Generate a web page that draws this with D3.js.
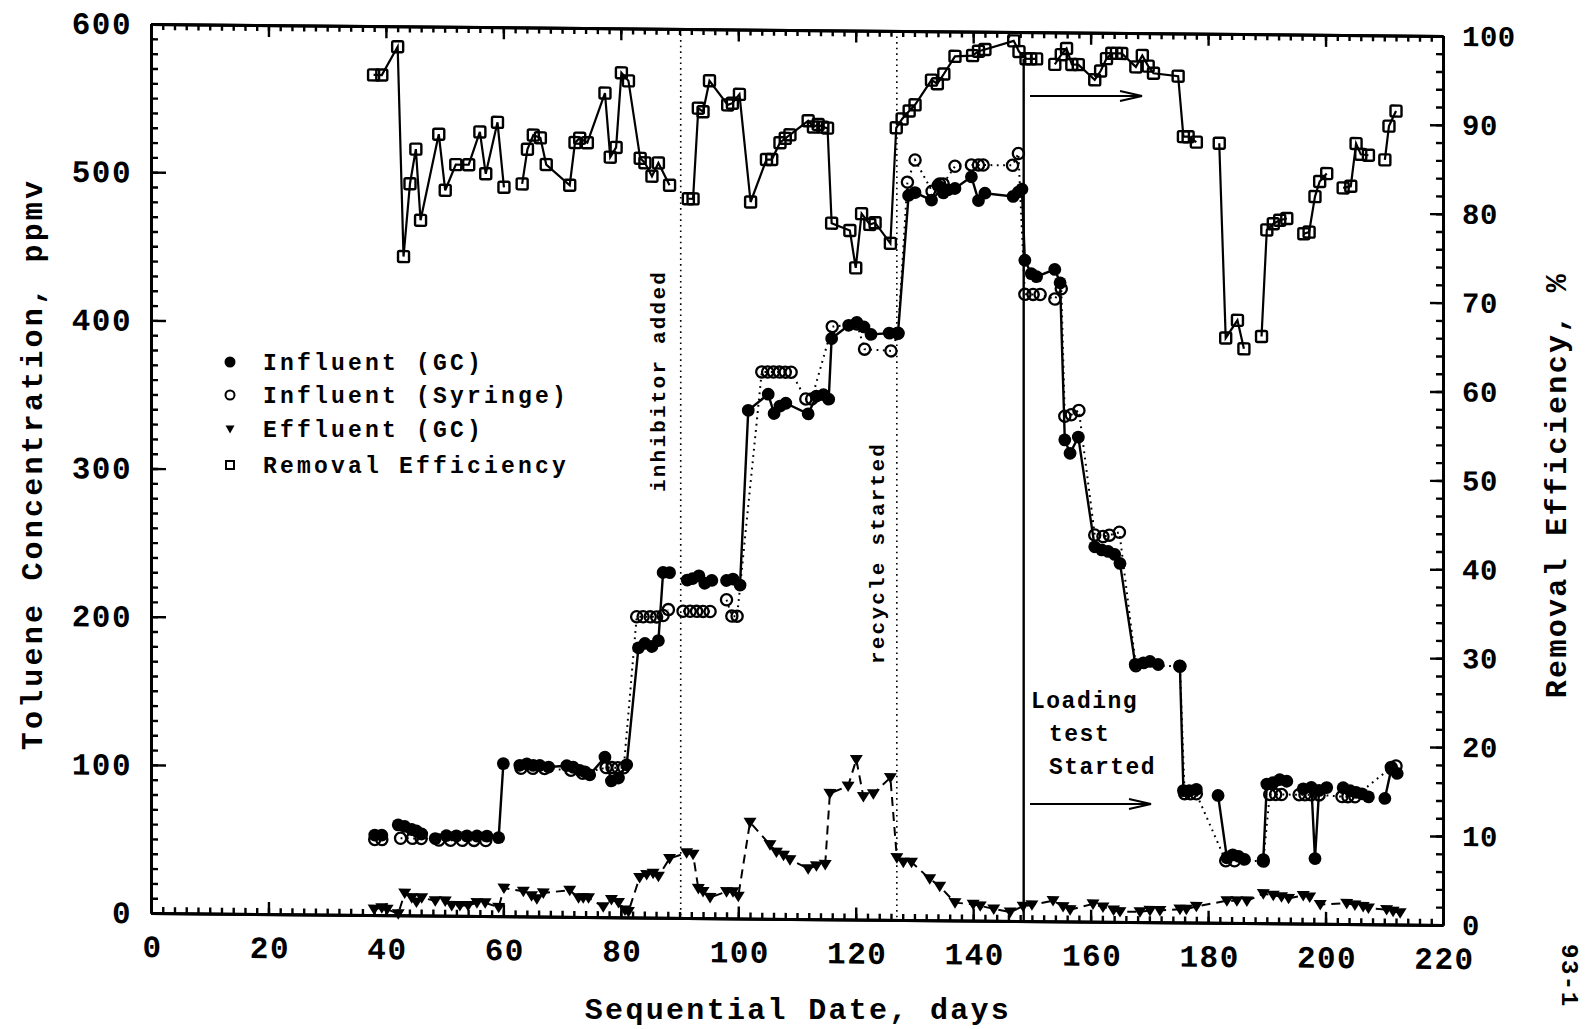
<!DOCTYPE html>
<html>
<head>
<meta charset="utf-8">
<script src="https://cdn.jsdelivr.net/npm/d3@7"></script>
<style>
  body { margin: 0; background: #fff; }
  svg { display: block; background: #fff; }
  text { font-family: "Liberation Mono", "Courier New", monospace; font-weight: bold; fill: #000; }
</style>
</head>
<body>
<div id="chart"></div>
<script>
//////////////////////////// data /////////////////////////////////////////

// removal efficiency, % (right axis)
const reDays = [37.9, 39.3, 42.0, 43.0, 44.1, 45.1, 45.9, 49.0, 50.1, 51.9, 54.1, 56.0, 57.0, 59.0, 60.1,
  63.2, 64.1, 65.1, 66.3, 67.3, 71.3, 72.2, 73.0, 74.3, 77.3, 78.2, 79.2, 80.1, 81.3, 83.3, 84.1, 85.3, 86.4, 88.3,
  91.5, 92.3, 93.2, 94.0, 95.1, 98.2, 99.0, 100.2, 102.1, 104.8, 105.7, 107.1, 108.0, 108.8, 111.9, 112.8, 113.6,
  114.4, 115.2, 115.9, 119.0, 120.0, 121.0, 122.4, 123.3, 125.9, 126.9, 127.9, 129.1, 130.1, 132.9, 133.9, 135.0,
  136.9, 139.9, 140.9, 142.0, 146.9, 147.8, 149.0, 149.8, 150.8,
  153.9, 155.0, 155.9, 156.8, 157.9, 160.7, 161.7, 162.7, 163.6, 164.4, 165.3, 167.7, 168.8, 169.8, 170.7, 174.9,
  175.8, 176.6, 178.0,
  181.9, 183.0, 185.0, 186.1,
  189.1, 190.0, 191.1, 192.2, 193.4,
  196.3, 197.2, 198.2, 199.0, 200.2,
  203.0, 204.3, 205.2, 206.0, 207.3,
  210.1, 210.8, 212.0];
const reVals = [94.5, 94.5, 97.7, 74.1, 82.3, 86.2, 78.2, 87.9, 81.6, 84.5, 84.5, 88.2, 83.5, 89.3, 82.0,
  82.4, 86.3, 87.9, 87.6, 84.6, 82.3, 87.1, 87.6, 87.1, 92.7, 85.5, 86.6, 95.0, 94.1, 85.4, 84.9, 83.4, 84.9, 82.4,
  80.9, 80.9, 91.1, 90.7, 94.2, 91.5, 91.7, 92.7, 80.6, 85.4, 85.4, 87.3, 87.8, 88.2, 89.8, 89.1, 89.4,
  89.1, 89.0, 78.3, 77.5, 73.3, 79.4, 78.2, 78.4, 76.1, 89.1, 90.1, 91.0, 91.7, 94.5, 94.1, 95.2,
  97.2, 97.3, 97.8, 98.0, 99.0, 97.8, 97.0, 97.0, 97.0,
  96.4, 97.5, 98.2, 96.4, 96.4, 94.7, 95.7, 97.1, 97.7, 97.7, 97.7, 96.2, 97.5, 96.3, 95.5, 95.2,
  88.4, 88.4, 87.8,
  87.7, 65.8, 67.8, 64.6,
  66.0, 78.0, 78.7, 79.1, 79.3,
  77.6, 77.8, 81.8, 83.5, 84.4,
  82.8, 83.0, 87.8, 86.6, 86.5,
  86.0, 89.8, 91.5];
const reBreaks = [63.2, 91.5, 153.9, 181.9, 189.1, 196.3, 203.0, 210.1];

// influent (GC), ppmv
const gcDays = [38.1, 39.3, 42.1, 43.2, 44.4, 45.2, 46.1, 48.4, 50.3, 52.0, 53.8, 55.5, 57.2, 59.2, 60.0,
  62.8, 64.0, 65.1, 66.2, 67.7, 70.8, 71.9, 73.0, 73.9, 74.7, 77.3, 78.4, 79.6, 81.0, 83.0, 84.1, 85.3, 86.4, 87.2, 88.3,
  91.3, 92.2, 93.3, 94.3, 95.5,
  98.0, 99.1, 100.3, 101.7, 105.1, 106.1, 107.1, 108.1, 111.9, 113.3, 114.5, 115.4, 115.9, 118.8, 120.2, 121.4,
  122.6, 125.7, 127.2, 129.0, 130.1, 132.9, 134.0, 134.9, 135.7, 136.9, 139.7, 140.9, 142.0, 146.8, 147.7, 148.3,
  148.8, 149.9, 150.8, 153.9, 154.8, 155.6, 156.5, 157.9, 160.7, 161.9, 163.0, 164.1, 165.0, 167.6, 169.0, 170.1, 171.5,
  175.2, 175.8, 176.8, 178.0,
  181.7, 183.2, 184.2, 185.2, 186.2,
  189.4, 190.0, 191.1, 192.2, 193.4,
  196.2, 197.6, 198.2, 198.9, 200.2,
  203.0, 204.2, 205.2, 206.2, 207.3,
  210.1, 211.2, 212.2];
const gcVals = [54, 54, 61, 60, 58, 57, 55, 52, 54, 54, 54, 54, 54, 53, 103,
  102, 103, 102, 102, 101, 102, 101, 99, 98, 96, 108, 92, 94, 103, 182, 185, 183, 187, 233, 233,
  228, 229, 231, 226, 228,
  228, 229, 225, 343, 354, 341, 346, 348, 341, 353, 354, 351, 392, 401, 403, 400,
  395, 396, 396, 489, 491, 486, 496, 491, 493, 494, 502, 486, 491, 489, 492, 494,
  446, 437, 435, 440, 431, 325, 316, 327, 253, 251, 250, 248, 242, 174, 175, 176, 174,
  173, 89, 89, 90,
  86, 44, 46, 45, 43,
  43, 94, 95, 97, 96,
  91, 92, 44, 90, 92,
  92, 90, 89, 88, 86,
  85, 105, 102];
const gcBreaks = [42.1, 48.4, 62.8, 91.3, 98.0, 175.2, 181.7, 189.4, 196.2, 203.0, 210.1];

// influent (syringe), ppmv
const synDays = [38.1, 39.3, 42.5, 44.5, 46.0, 49.0, 51.0, 53.0, 55.0, 57.0, 63.0, 65.0, 67.0, 71.5, 73.5,
  77.5, 78.5, 79.5, 80.5, 82.7, 83.8, 85.0, 86.1, 87.2, 88.1, 90.6, 91.8, 92.9, 94.0, 95.2, 98.0, 98.9, 99.8,
  104.0, 105.0, 106.0, 107.0, 108.0, 109.0, 111.5, 112.5, 116.0, 120.2, 121.5, 126.0, 127.2, 128.8, 130.1, 133.0,
  134.3, 134.9, 136.9, 139.7, 140.9, 141.7, 146.7, 147.7, 148.8, 150.2, 151.4, 153.9, 155.0, 155.6, 156.7, 158.0,
  160.7, 162.1, 163.2, 164.9, 167.7, 175.2, 176.0, 177.0, 178.0, 183.0, 184.5, 189.4, 190.5, 191.5, 192.5,
  195.5, 196.5, 197.5, 198.9, 202.8, 203.8, 205.0, 211.2, 212.0];
const synVals = [51, 51, 52, 52, 52, 51, 51, 51, 51, 51, 100, 100, 100, 99, 97,
  101, 101, 101, 101, 203, 203, 203, 203, 204, 208, 207, 207, 207, 207, 207, 215, 204, 204,
  369, 369, 369, 369, 369, 369, 351, 351, 400, 402, 385, 384, 396, 498, 513, 492,
  497, 497, 509, 510, 510, 510, 510, 518, 423, 423, 423, 420, 427, 341, 342, 345,
  261, 260, 261, 263, 173, 173, 87, 87, 87, 42, 42, 42, 87, 87, 87,
  87, 87, 87, 87, 86, 86, 86, 106, 107];
const synBreaks = [42.5, 63.0, 90.6, 98.0];

// effluent (GC), ppmv
const efDays = [38.0, 39.3, 40.2, 42.1, 43.2, 44.4, 45.2, 46.1, 48.4, 50.1, 51.2, 52.6, 54.0, 55.5, 56.9, 59.2, 60.1,
  63.4, 64.8, 65.7, 66.8, 71.3, 72.8, 73.6, 74.5, 77.0, 78.4, 79.6, 80.7, 81.3, 83.2, 84.4, 85.5, 86.4, 88.3,
  91.2, 92.3, 93.2, 94.0, 95.2, 98.0, 99.1, 100.0, 102.0, 105.4, 106.5, 107.7, 108.8, 111.9, 113.3, 114.8,
  115.6, 118.7, 120.1, 121.3, 123.0, 125.9, 127.0, 128.1, 129.5, 132.6, 134.3, 136.9, 140.0, 141.2, 143.5,
  146.3, 148.5, 150.0, 153.6, 155.3, 156.5, 160.4, 162.1, 163.9, 165.0, 168.4, 170.1, 171.8, 175.2, 176.3,
  178.0, 183.2, 184.9, 186.6, 189.4, 191.1, 192.5, 193.7, 196.2, 197.3, 199.1, 203.6, 205.0, 206.4, 207.3,
  210.4, 211.5, 212.7];
const efVals = [4, 5, 4, 1, 15, 12, 9, 12, 10, 10, 7, 7, 7, 9, 9, 6, 19,
  17, 14, 12, 16, 18, 13, 13, 13, 7, 12, 10, 5, 4, 27, 29, 30, 28, 40,
  44, 43, 20, 18, 14, 18, 18, 15, 65, 50, 45, 43, 40, 34, 36, 37,
  85, 90, 108, 83, 85, 96, 42, 39, 39, 28, 23, 12, 11, 10, 8,
  6, 10, 11, 14, 10, 8, 12, 10, 8, 7, 7, 8, 8, 9, 9,
  11, 15, 15, 15, 20, 19, 18, 17, 19, 18, 13, 14, 13, 12, 11,
  10, 9, 8];

// event markers (days)
const inhibitorDay = 90.2;
const recycleDay = 127.0;
const loadingDay = 148.6;

// axis ticks
const xMajor = d3.range(0, 221, 20);
const xMinor = d3.range(0, 221, 2);
const yLMajor = d3.range(0, 601, 100);
const yLMinor = d3.range(0, 601, 10);
const yRMajor = d3.range(0, 101, 10);
const yRMinor = d3.range(0, 101, 2);

const legendItems = ["Influent (GC)", "Influent (Syringe)", "Effluent (GC)", "Removal Efficiency"];

//////////////////////////// set up svg ///////////////////////////////////

const width = 1585;
const height = 1029;
const margin = { top: 24, right: 142, bottom: 116, left: 151 };

const svg = d3.select("#chart").append("svg")
  .attr("width", width)
  .attr("height", height);

const xScale = d3.scaleLinear().domain([0, 220]).range([margin.left, width - margin.right]);
const yLeft = d3.scaleLinear().domain([0, 600]).range([height - margin.bottom, margin.top]);
const yRight = d3.scaleLinear().domain([0, 100]).range([height - margin.bottom, margin.top]);

// the scanned original sits slightly sheared, right side lower
const plot = svg.append("g")
  .attr("transform", `translate(${margin.left},0) skewY(0.53) translate(${-margin.left},0)`);

//////////////////////////// axes /////////////////////////////////////////

const styleAxis = (g, size, ls) => {
  g.select(".domain").attr("stroke-width", 3);
  g.selectAll(".tick line").attr("stroke-width", 2.4);
  g.selectAll("text").attr("font-size", size).attr("letter-spacing", ls);
};

const yBottom = height - margin.bottom;
const xRightEdge = width - margin.right;

plot.append("g").attr("transform", `translate(0,${yBottom})`)
  .call(d3.axisBottom(xScale).tickValues(xMinor).tickSize(-6).tickSizeOuter(0).tickFormat(""))
  .call(g => styleAxis(g, 0, 0));
plot.append("g").attr("transform", `translate(0,${yBottom})`)
  .call(d3.axisBottom(xScale).tickValues(xMajor).tickSize(-12).tickSizeOuter(0).tickPadding(22).tickFormat(d3.format("d")))
  .call(g => styleAxis(g, 31, 1.5))
  .selectAll("text").attr("dx", 1);

plot.append("g").attr("transform", `translate(0,${margin.top})`)
  .call(d3.axisTop(xScale).tickValues(xMinor).tickSize(-6).tickSizeOuter(0).tickFormat(""))
  .call(g => styleAxis(g, 0, 0));
plot.append("g").attr("transform", `translate(0,${margin.top})`)
  .call(d3.axisTop(xScale).tickValues(xMajor).tickSize(-12).tickSizeOuter(0).tickFormat(""))
  .call(g => styleAxis(g, 0, 0));

plot.append("g").attr("transform", `translate(${margin.left},0)`)
  .call(d3.axisLeft(yLeft).tickValues(yLMinor).tickSize(-7).tickSizeOuter(0).tickFormat(""))
  .call(g => styleAxis(g, 0, 0));
plot.append("g").attr("transform", `translate(${margin.left},0)`)
  .call(d3.axisLeft(yLeft).tickValues(yLMajor).tickSize(-15).tickSizeOuter(0).tickPadding(19).tickFormat(d3.format("d")))
  .call(g => styleAxis(g, 31, 1.5));

plot.append("g").attr("transform", `translate(${xRightEdge},0)`)
  .call(d3.axisRight(yRight).tickValues(yRMinor).tickSize(-7).tickSizeOuter(0).tickFormat(""))
  .call(g => styleAxis(g, 0, 0));
plot.append("g").attr("transform", `translate(${xRightEdge},0)`)
  .call(d3.axisRight(yRight).tickValues(yRMajor).tickSize(-13).tickSizeOuter(0).tickPadding(19).tickFormat(d3.format("d")))
  .call(g => styleAxis(g, 29, 0.5));

//////////////////////////// event lines //////////////////////////////////

[inhibitorDay, recycleDay].forEach(d => {
  plot.append("line")
    .attr("x1", xScale(d)).attr("x2", xScale(d))
    .attr("y1", margin.top).attr("y2", yBottom)
    .attr("stroke", "#000").attr("stroke-width", 1.6)
    .attr("stroke-dasharray", "1.6,4");
});

plot.append("line")
  .attr("x1", xScale(loadingDay)).attr("x2", xScale(loadingDay))
  .attr("y1", yRight(97)).attr("y2", yBottom)
  .attr("stroke", "#000").attr("stroke-width", 2.4);

//////////////////////////// series ///////////////////////////////////////

const toSegments = (days, vals, breaks) => {
  const segs = [];
  let cur = [];
  days.forEach((d, i) => {
    if (breaks.includes(d) && cur.length) { segs.push(cur); cur = []; }
    cur.push([d, vals[i]]);
  });
  if (cur.length) segs.push(cur);
  return segs;
};
const zip = (days, vals) => days.map((d, i) => [d, vals[i]]);

const lineL = d3.line().x(d => xScale(d[0])).y(d => yLeft(d[1]));
const lineR = d3.line().x(d => xScale(d[0])).y(d => yRight(d[1]));

// removal efficiency
plot.append("g").selectAll("path")
  .data(toSegments(reDays, reVals, reBreaks))
  .join("path")
  .attr("d", lineR)
  .attr("fill", "none").attr("stroke", "#000").attr("stroke-width", 2.2);

plot.append("g").selectAll("rect")
  .data(zip(reDays, reVals))
  .join("rect")
  .attr("x", d => xScale(d[0]) - 5.5)
  .attr("y", d => yRight(d[1]) - 5.5)
  .attr("width", 11).attr("height", 11).attr("rx", 1.5)
  .attr("fill", "none").attr("stroke", "#000").attr("stroke-width", 2.4);

// effluent
plot.append("path")
  .datum(zip(efDays, efVals))
  .attr("d", lineL)
  .attr("fill", "none").attr("stroke", "#000").attr("stroke-width", 2)
  .attr("stroke-dasharray", "9,6");

plot.append("g").selectAll("path")
  .data(zip(efDays, efVals))
  .join("path")
  .attr("transform", d => `translate(${xScale(d[0])},${yLeft(d[1])})`)
  .attr("d", "M-6.5,-4.5L6.5,-4.5L0,6Z")
  .attr("fill", "#000");

// influent syringe
plot.append("g").selectAll("path")
  .data(toSegments(synDays, synVals, synBreaks))
  .join("path")
  .attr("d", lineL)
  .attr("fill", "none").attr("stroke", "#000").attr("stroke-width", 2)
  .attr("stroke-dasharray", "1.8,4.5");

plot.append("g").selectAll("circle")
  .data(zip(synDays, synVals))
  .join("circle")
  .attr("cx", d => xScale(d[0]))
  .attr("cy", d => yLeft(d[1]))
  .attr("r", 5.6)
  .attr("fill", "none").attr("stroke", "#000").attr("stroke-width", 2.3);

// influent GC
plot.append("g").selectAll("path")
  .data(toSegments(gcDays, gcVals, gcBreaks))
  .join("path")
  .attr("d", lineL)
  .attr("fill", "none").attr("stroke", "#000").attr("stroke-width", 2.4);

plot.append("g").selectAll("circle")
  .data(zip(gcDays, gcVals))
  .join("circle")
  .attr("cx", d => xScale(d[0]))
  .attr("cy", d => yLeft(d[1]))
  .attr("r", 6.4)
  .attr("fill", "#000");

//////////////////////////// titles ///////////////////////////////////////

svg.append("text")
  .attr("transform", "translate(31,464) rotate(-90)")
  .attr("text-anchor", "middle").attr("dy", "0.35em")
  .attr("font-size", 30).attr("letter-spacing", 3.2)
  .text("Toluene Concentration, ppmv");

svg.append("text")
  .attr("transform", "translate(1555,485) rotate(-90)")
  .attr("text-anchor", "middle").attr("dy", "0.35em")
  .attr("font-size", 30).attr("letter-spacing", 2.3)
  .text("Removal Efficiency, %");

svg.append("text")
  .attr("x", 798).attr("y", 1008)
  .attr("text-anchor", "middle").attr("dy", "0.35em")
  .attr("font-size", 30).attr("letter-spacing", 2.3)
  .text("Sequential Date, days");

svg.append("text")
  .attr("transform", "translate(1562,944) rotate(90)")
  .attr("font-size", 24).attr("letter-spacing", 1.5)
  .text("93-1");

//////////////////////////// annotations //////////////////////////////////

svg.append("text")
  .attr("transform", "translate(658,381) rotate(-90)")
  .attr("text-anchor", "middle").attr("dy", "0.35em")
  .attr("font-size", 21).attr("letter-spacing", 2.2)
  .text("inhibitor added");

svg.append("text")
  .attr("transform", "translate(877,553) rotate(-90)")
  .attr("text-anchor", "middle").attr("dy", "0.35em")
  .attr("font-size", 21).attr("letter-spacing", 2.2)
  .text("recycle started");

[["Loading", 1031, 700], ["test", 1049, 733], ["Started", 1049, 766]].forEach(([t, tx, ty]) => {
  svg.append("text")
    .attr("x", tx).attr("y", ty).attr("dy", "0.35em")
    .attr("font-size", 23).attr("font-weight", "normal").attr("letter-spacing", 1.5)
    .text(t);
});

const arrow = (x1, x2, y) => {
  const g = svg.append("g").attr("stroke", "#000").attr("stroke-width", 1.8).attr("fill", "none");
  g.append("line").attr("x1", x1).attr("x2", x2).attr("y1", y).attr("y2", y);
  g.append("path").attr("d", `M${x2 - 22},${y - 5}L${x2},${y}L${x2 - 22},${y + 5}`);
};
arrow(1030, 1142, 96);
arrow(1030, 1151, 804);

//////////////////////////// legend ///////////////////////////////////////

const legend = svg.append("g").attr("transform", "translate(230,0)");
const rows = [362, 395, 429, 465];

legend.append("circle").attr("cx", 0).attr("cy", rows[0]).attr("r", 5.5).attr("fill", "#000");
legend.append("circle").attr("cx", 0).attr("cy", rows[1]).attr("r", 4.5)
  .attr("fill", "none").attr("stroke", "#000").attr("stroke-width", 2);
legend.append("path").attr("transform", `translate(0,${rows[2]})`)
  .attr("d", "M-4.5,-3.5L4.5,-3.5L0,4.5Z").attr("fill", "#000");
legend.append("rect").attr("x", -4).attr("y", rows[3] - 4).attr("width", 8).attr("height", 8)
  .attr("fill", "none").attr("stroke", "#000").attr("stroke-width", 2);

legend.selectAll("text")
  .data(legendItems)
  .join("text")
  .attr("x", 33)
  .attr("y", (d, i) => rows[i])
  .attr("dy", "0.35em")
  .attr("font-size", 23).attr("letter-spacing", 3.2)
  .text(d => d);
</script>
</body>
</html>
